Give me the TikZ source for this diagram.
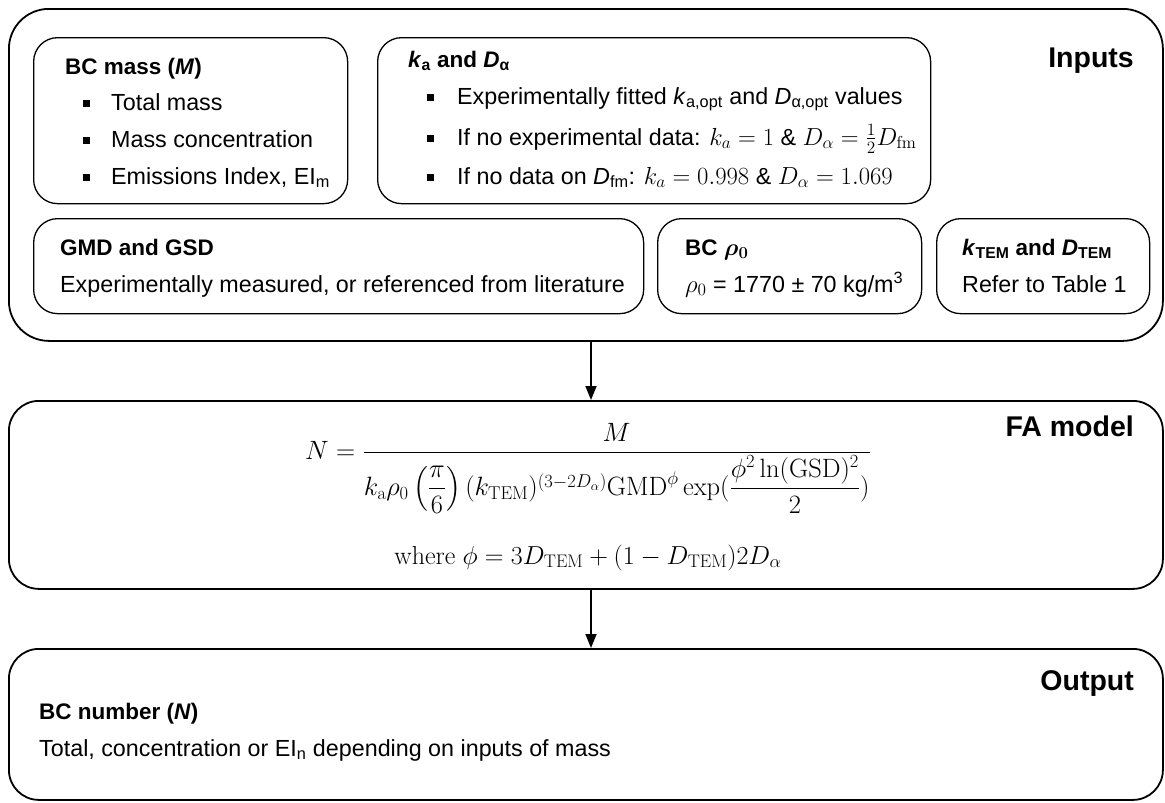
\RequirePackage{fix-cm}
\documentclass[tikz,border=0pt]{standalone}
\usepackage{amsmath,bm}
\usepackage[no-math]{fontspec}
\setmainfont{Liberation Sans}
\usetikzlibrary{arrows.meta}
\newcommand\mm[1]{\scalebox{1.06}{$#1$}}
\tikzset{
  obox/.style={draw, line width=1.8pt, rounded corners=40pt, inner sep=0pt, anchor=north west},
  fbox/.style={draw, line width=1.8pt, rounded corners=30pt, inner sep=0pt, anchor=north west},
  ibox/.style={draw, line width=1.3pt, rounded corners=24pt, inner sep=0pt, anchor=north west},
  txt/.style={anchor=base west, inner sep=0pt, font=\fontsize{23.3}{27}\selectfont},
  ttl/.style={anchor=base west, inner sep=0pt, font=\fontsize{22.5}{26}\selectfont\bfseries},
  big/.style={anchor=base east, inner sep=0pt, font=\fontsize{28.5}{32}\selectfont\bfseries},
  bul/.style={fill, inner sep=0pt, minimum size=7pt, anchor=center},
  flow/.style={line width=1.8pt, -{Triangle[length=14pt,width=11pt]}}
}
\begin{document}
\begin{tikzpicture}[x=1pt,y=-1pt]
\useasboundingbox (0,0) rectangle (1165,803);
% outer boxes
\node[obox, minimum width=1154pt, minimum height=332pt] (inputs) at (8,8) {};
\node[fbox, minimum width=1154pt, minimum height=188pt] (fa) at (8,400) {};
\node[fbox, minimum width=1154pt, minimum height=151pt] (out) at (8,648) {};
% inner boxes
\node[ibox, minimum width=314pt, minimum height=166pt] (mass) at (33,37) {};
\node[ibox, minimum width=553pt, minimum height=166pt] (ka) at (377,37) {};
\node[ibox, minimum width=610pt, minimum height=95pt] (gmd) at (33,218) {};
\node[ibox, minimum width=264pt, minimum height=95pt] (rho) at (657,218) {};
\node[ibox, minimum width=213pt, minimum height=95pt] (ktem) at (936,218) {};
% section labels
\node[big] (linputs) at (1134,67) {Inputs};
\node[big] (lfa) at (1134,436) {FA model};
\node[big] (lout) at (1134,690) {Output};
% BC mass
\node[ttl] (masst) at (65,74) {BC mass (\textit{M})};
\node[bul] (mb1) at (86,103) {};
\node[txt] (m1) at (111,110) {Total mass};
\node[bul] (mb2) at (86,140) {};
\node[txt] (m2) at (111,147) {Mass concentration};
\node[bul] (mb3) at (86,177) {};
\node[txt] (m3) at (111,184) {Emissions Index, EI\textsubscript{m}};
% ka and Da
\node[ttl] (kat) at (408,67) {\textit{k}\textsubscript{a} and \textit{D}\textsubscript{α}};
\node[bul] (kb1) at (430,97) {};
\node[txt] (k1) at (457,104) {Experimentally fitted \textit{k}\textsubscript{a,opt} and \textit{D}\textsubscript{α,opt} values};
\node[bul] (kb2) at (430,138) {};
\node[txt] (k2) at (457,145) {If no experimental data: \mm{k_a=1} \& \mm{D_\alpha=\frac{1}{2}D_{\mathrm{fm}}}};
\node[bul] (kb3) at (430,177) {};
\node[txt] (k3) at (457,184) {If no data on \textit{D}\textsubscript{fm}: \mm{k_a=0.998} \& \mm{D_\alpha=1.069}};
% GMD
\node[ttl] (gmdt) at (60,255) {GMD and GSD};
\node[txt] (gmdx) at (60,292) {Experimentally measured, or referenced from literature};
% rho
\node[ttl] (rhot) at (685,255) {BC \mm{\bm{\rho_0}}};
\node[txt] (rhox) at (685,292) {\mm{\rho_0} = 1770 ± 70 kg/m\textsuperscript{3}};
% kTEM
\node[ttl] (ktemt) at (962,255) {\textit{k}\textsubscript{TEM} and \textit{D}\textsubscript{TEM}};
\node[txt] (ktemx) at (962,292) {Refer to Table 1};
% equation
\node[anchor=base, inner sep=0pt, font=\fontsize{26.5}{30}\selectfont] (eq) at (588,459)
  {$\displaystyle N=\frac{M}{k_{\mathrm{a}}\rho_0\left(\dfrac{\pi}{6}\right)(k_{\mathrm{TEM}})^{(3-2D_{\alpha})}\mathrm{GMD}^{\phi}\exp(\dfrac{\phi^2\ln(\mathrm{GSD})^2}{2})}$};
\node[anchor=base, inner sep=0pt, font=\fontsize{26}{30}\selectfont] (where) at (588,564)
  {$\mathrm{where}\ \phi=3D_{\mathrm{TEM}}+(1-D_{\mathrm{TEM}})2D_{\alpha}$};
% output
\node[ttl] (outt) at (39,719) {BC number (\textit{N})};
\node[txt] (outx) at (39,756) {Total, concentration or EI\textsubscript{n} depending on inputs of mass};
% arrows
\coordinate (ax) at (591,0);
\draw[flow] (inputs.south -| ax) -- (fa.north -| ax);
\draw[flow] (fa.south -| ax) -- (out.north -| ax);
\end{tikzpicture}
\end{document}
